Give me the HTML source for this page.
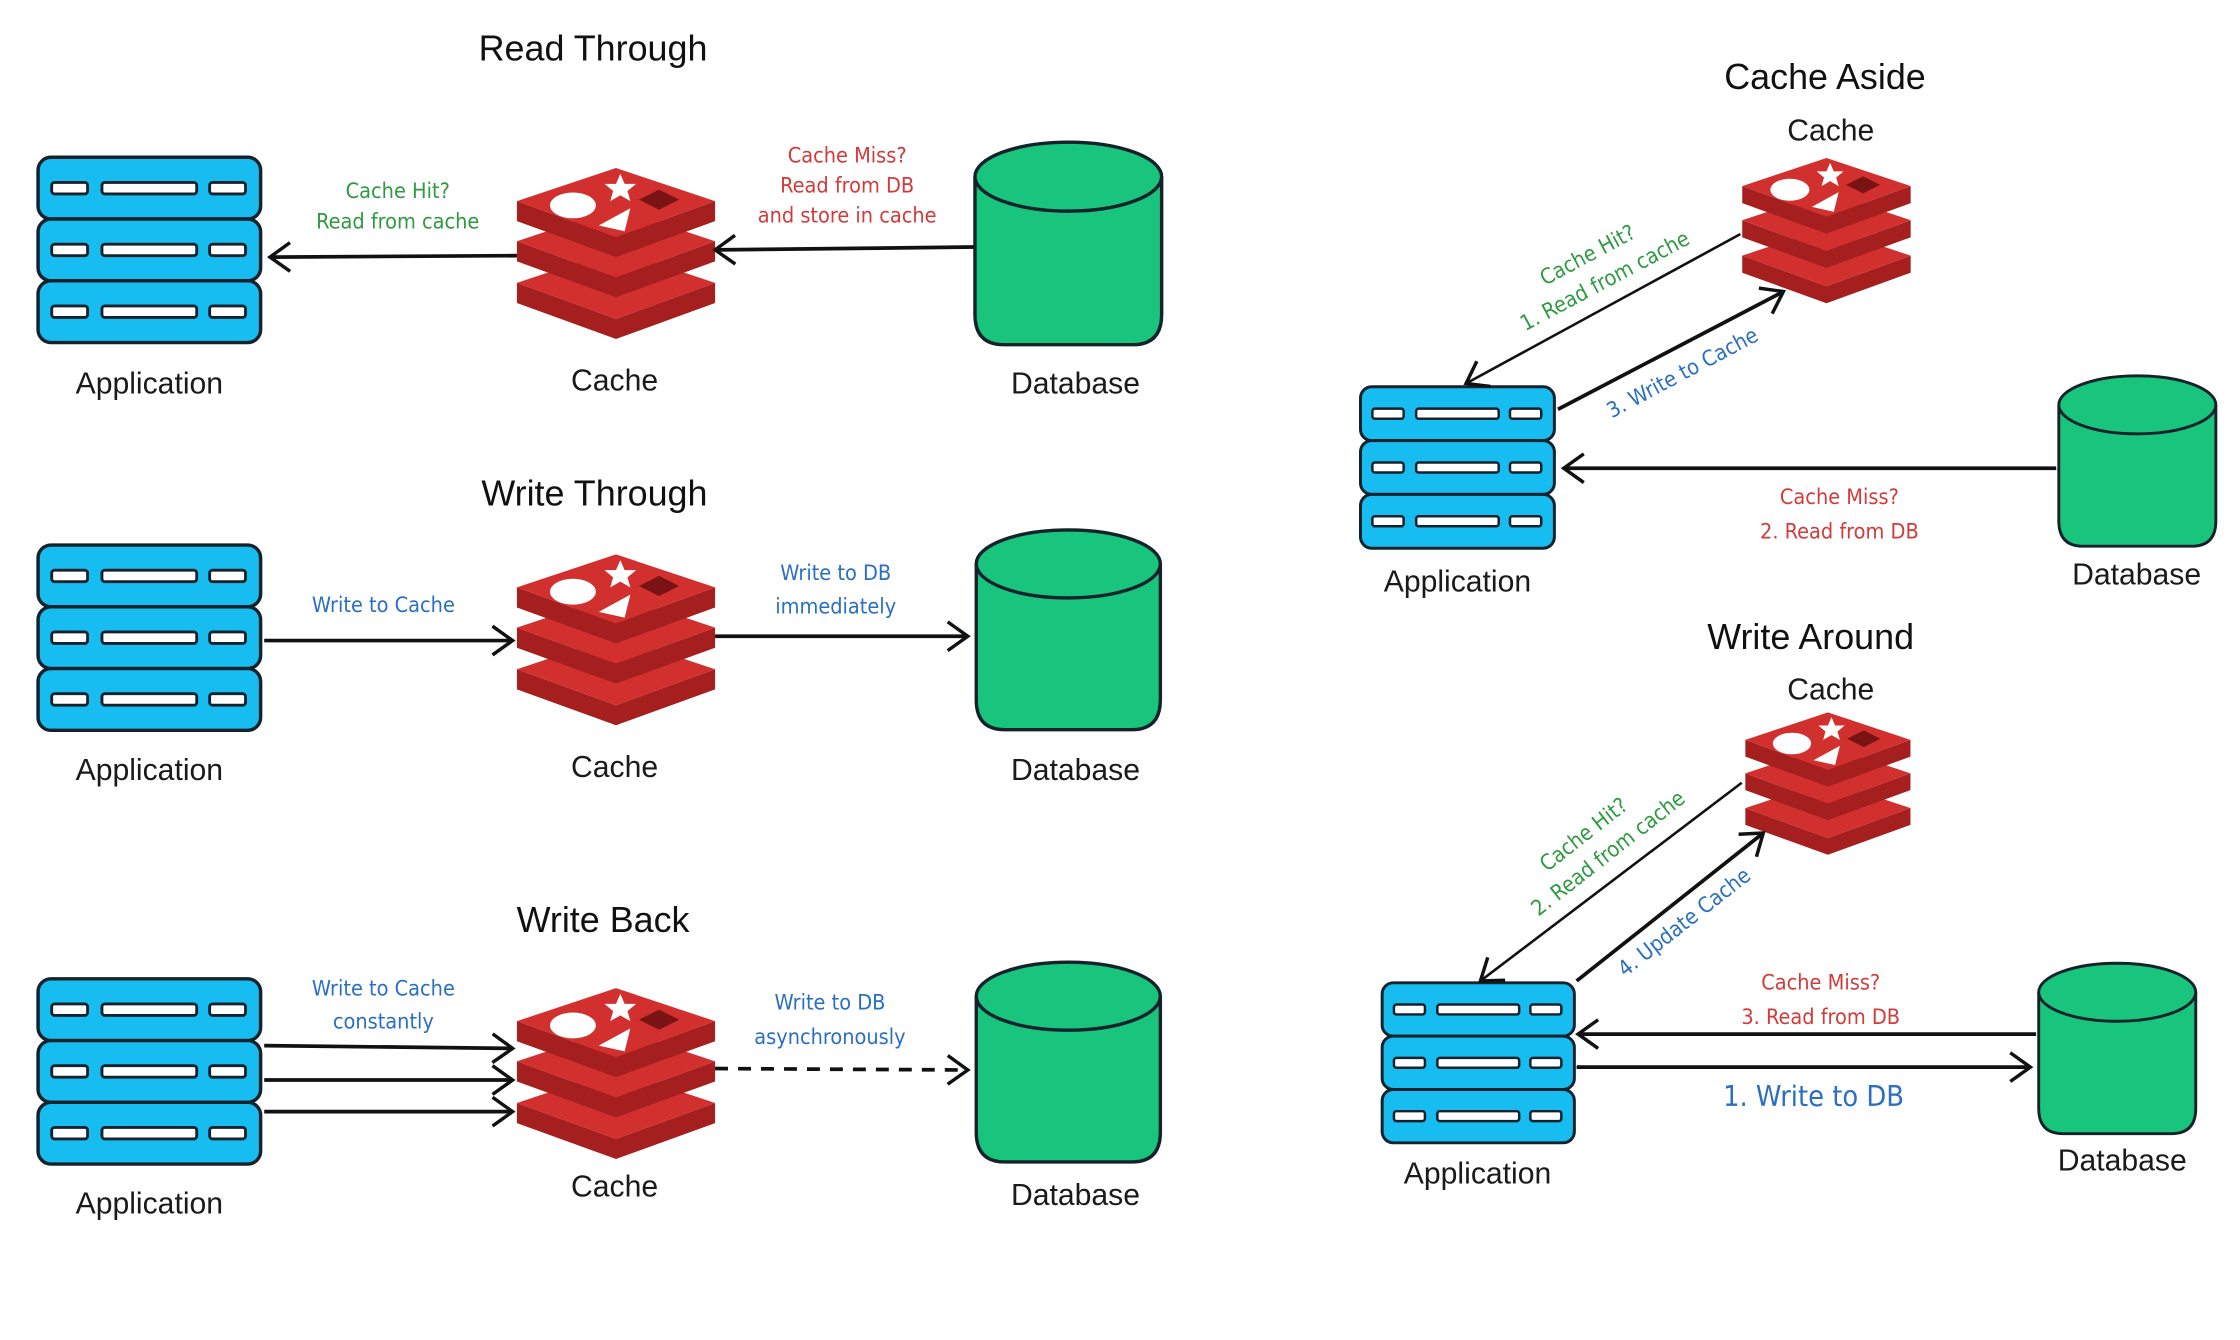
<!DOCTYPE html>
<html><head><meta charset="utf-8"><style>
html,body{margin:0;padding:0;background:#fff;}
svg{display:block;}
.t{font-family:"Liberation Sans",sans-serif;font-size:25px;fill:#111;text-anchor:middle;}
.l{font-family:"Liberation Sans",sans-serif;font-size:21px;fill:#1a1a1a;text-anchor:middle;}
.h{font-family:"DejaVu Sans Condensed","DejaVu Sans",sans-serif;font-size:15px;text-anchor:middle;}
.g{fill:#2f9a42}.r{fill:#d33a3a}.b{fill:#2a6fc2}
.a{stroke:#111;stroke-width:2.6;fill:none;marker-end:url(#ah);}
.a2{stroke:#111;stroke-width:1.8;fill:none;marker-end:url(#ah);}
</style></head><body>
<svg width="2240" height="1340" viewBox="0 0 1560 933" preserveAspectRatio="none" xmlns="http://www.w3.org/2000/svg">
<defs>
<marker id="ah" viewBox="-16 -12 20 24" markerWidth="20" markerHeight="24" refX="0" refY="0" orient="auto" markerUnits="userSpaceOnUse">
<path d="M-14,-10 L0,0 L-14,10" fill="none" stroke="#111" stroke-width="2.4"/>
</marker>
<symbol id="srv" viewBox="0 0 158 132">
<g stroke="#14222b" stroke-width="2.4">
<rect x="1.5" y="1.5" width="155" height="43" rx="9" fill="#17bdf0"/>
<rect x="1.5" y="44.5" width="155" height="43" rx="9" fill="#17bdf0"/>
<rect x="1.5" y="87.5" width="155" height="43" rx="9" fill="#17bdf0"/>
<g fill="#fff" stroke-width="2">
<rect x="11" y="19" width="25" height="8" rx="2"/><rect x="46" y="19" width="66" height="8" rx="2"/><rect x="121" y="19" width="25" height="8" rx="2"/>
<rect x="11" y="62" width="25" height="8" rx="2"/><rect x="46" y="62" width="66" height="8" rx="2"/><rect x="121" y="62" width="25" height="8" rx="2"/>
<rect x="11" y="105" width="25" height="8" rx="2"/><rect x="46" y="105" width="66" height="8" rx="2"/><rect x="121" y="105" width="25" height="8" rx="2"/>
</g></g>
</symbol>
<symbol id="db" viewBox="0 0 134 145">
<path d="M2,26 L2,122 Q2,143 22,143 L112,143 Q132,143 132,122 L132,26" fill="#19c47c" stroke="#14222b" stroke-width="2.4"/>
<ellipse cx="67" cy="26" rx="65" ry="24" fill="#19c47c" stroke="#14222b" stroke-width="2.4"/>
</symbol>
<g id="layer">
<path d="M-69,23 L0,48 L69,23 L69,37 L0,62 L-69,37 Z" fill="#a51f1f"/>
<path d="M0,0 L69,23 L0,48 L-69,23 Z" fill="#d2302e"/>
</g>
<symbol id="redis" viewBox="-70 0 140 120">
<use href="#layer" y="57"/><use href="#layer" y="28"/><use href="#layer" y="0"/>
<ellipse cx="-30" cy="26" rx="16" ry="9" fill="#fff"/>
<path d="M3,4 L6,11 L14,11 L8,16 L10,23 L3,19 L-4,23 L-2,16 L-8,11 L0,11 Z" fill="#fff"/>
<path d="M-12,40 L10,28 L6,44 Z" fill="#fff"/>
<path d="M16,22 L30,15 L44,22 L30,29 Z" fill="#7a1414"/>
</symbol>
</defs>

<!-- Read Through -->
<text class="t" x="413" y="42">Read Through</text>
<use href="#srv" x="25" y="108" width="158" height="132"/>
<use href="#redis" x="359" y="117" width="140" height="120"/>
<use href="#db" x="677" y="97" width="134" height="145"/>
<line class="a" x1="360" y1="178" x2="188" y2="179"/>
<line class="a" x1="678" y1="172" x2="498" y2="174"/>
<text class="h g" x="277" y="138">Cache Hit?</text>
<text class="h g" x="277" y="159">Read from cache</text>
<text class="h r" x="590" y="113">Cache Miss?</text>
<text class="h r" x="590" y="134">Read from DB</text>
<text class="h r" x="590" y="155">and store in cache</text>
<text class="l" x="104" y="274">Application</text>
<text class="l" x="428" y="272">Cache</text>
<text class="l" x="749" y="274">Database</text>

<!-- Write Through -->
<text class="t" x="414" y="352">Write Through</text>
<use href="#srv" x="25" y="378" width="158" height="132"/>
<use href="#redis" x="359" y="386" width="140" height="120"/>
<use href="#db" x="677" y="367" width="134" height="143"/>
<line class="a" x1="184" y1="446" x2="357" y2="446"/>
<line class="a" x1="498" y1="443" x2="674" y2="443"/>
<text class="h b" x="267" y="426">Write to Cache</text>
<text class="h b" x="582" y="404">Write to DB</text>
<text class="h b" x="582" y="427">immediately</text>
<text class="l" x="104" y="543">Application</text>
<text class="l" x="428" y="541">Cache</text>
<text class="l" x="749" y="543">Database</text>

<!-- Write Back -->
<text class="t" x="420" y="649">Write Back</text>
<use href="#srv" x="25" y="680" width="158" height="132"/>
<use href="#redis" x="359" y="688" width="140" height="120"/>
<use href="#db" x="677" y="668" width="134" height="143"/>
<line class="a" x1="184" y1="728" x2="357" y2="730"/>
<line class="a" x1="184" y1="752" x2="357" y2="752"/>
<line class="a" x1="184" y1="774" x2="357" y2="774"/>
<line class="a" x1="498" y1="744" x2="674" y2="745" stroke-dasharray="9 7"/>
<text class="h b" x="267" y="693">Write to Cache</text>
<text class="h b" x="267" y="716">constantly</text>
<text class="h b" x="578" y="703">Write to DB</text>
<text class="h b" x="578" y="727">asynchronously</text>
<text class="l" x="104" y="845">Application</text>
<text class="l" x="428" y="833">Cache</text>
<text class="l" x="749" y="839">Database</text>

<!-- Cache Aside -->
<text class="t" x="1271" y="62">Cache Aside</text>
<text class="l" x="1275" y="98">Cache</text>
<use href="#redis" x="1212" y="110" width="120" height="102"/>
<use href="#srv" x="946" y="268" width="138" height="115"/>
<use href="#db" x="1431" y="260" width="115" height="122"/>
<line class="a2" x1="1212" y1="163" x2="1021" y2="267"/>
<line class="a" x1="1085" y1="285" x2="1242" y2="203"/>
<line class="a" x1="1432" y1="326" x2="1089" y2="326"/>
<text class="h g" transform="translate(1108,182) rotate(-28)">Cache Hit?</text>
<text class="h g" transform="translate(1120,200) rotate(-28)">1. Read from cache</text>
<text class="h b" transform="translate(1174,264) rotate(-28)">3. Write to Cache</text>
<text class="h r" x="1281" y="351">Cache Miss?</text>
<text class="h r" x="1281" y="375">2. Read from DB</text>
<text class="l" x="1015" y="412">Application</text>
<text class="l" x="1488" y="407">Database</text>

<!-- Write Around -->
<text class="t" x="1261" y="452">Write Around</text>
<text class="l" x="1275" y="487">Cache</text>
<use href="#redis" x="1213" y="496" width="120" height="100"/>
<use href="#srv" x="961" y="683" width="137" height="114"/>
<use href="#db" x="1417" y="669" width="115" height="122"/>
<line class="a2" x1="1213" y1="545" x2="1031" y2="683"/>
<line class="a" x1="1098" y1="683" x2="1228" y2="580"/>
<line class="a" x1="1418" y1="720" x2="1099" y2="720"/>
<line class="a" x1="1098" y1="743" x2="1414" y2="743"/>
<text class="h g" transform="translate(1106,585) rotate(-38)">Cache Hit?</text>
<text class="h g" transform="translate(1123,598) rotate(-38)">2. Read from cache</text>
<text class="h b" transform="translate(1176,646) rotate(-38)">4. Update Cache</text>
<text class="h r" x="1268" y="689">Cache Miss?</text>
<text class="h r" x="1268" y="713">3. Read from DB</text>
<text class="h b" x="1263" y="770" style="font-size:20px">1. Write to DB</text>
<text class="l" x="1029" y="824">Application</text>
<text class="l" x="1478" y="815">Database</text>
</svg>
</body></html>
